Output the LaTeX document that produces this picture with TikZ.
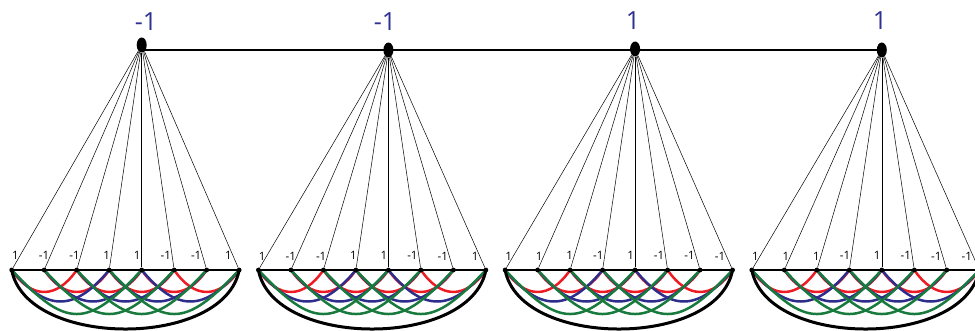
\documentclass[tikz,border=0pt]{standalone}
\usepackage{fontspec}
\setmainfont{Open Sans}
\usetikzlibrary{shapes.geometric}
\pgfdeclarelayer{bg}
\pgfsetlayers{bg,main}
\definecolor{lblblue}{RGB}{46,49,146}
\definecolor{arcred}{RGB}{237,28,36}
\definecolor{arcblue}{RGB}{45,45,140}
\definecolor{arcgreen}{RGB}{24,122,60}
\begin{document}
\begin{tikzpicture}[x=1pt,y=-1pt,
  topdot/.style={ellipse,fill=black,minimum width=10pt,minimum height=15pt,inner sep=0pt},
  botdot/.style={circle,fill=black,minimum size=4.8pt,inner sep=0pt},
  spoke/.style={line width=0.5pt},
  chain/.style={line width=2.4pt},
  topline/.style={line width=2pt},
  redarc/.style={arcred,line width=2.5pt},
  bluearc/.style={arcblue,line width=2.5pt},
  greenarc/.style={arcgreen,line width=2.5pt},
  blackarc/.style={black,line width=3pt},
  toplbl/.style={text=lblblue,font=\fontsize{25}{30}\selectfont,inner sep=0pt},
  botlbl/.style={font=\fontsize{11.5}{13}\selectfont,inner sep=1pt,anchor=east}]
\useasboundingbox (0,0) rectangle (975,331);
\clip (0,0) rectangle (975,331);
\foreach \g/\ty in {1/45,2/50,3/49,4/50}{
  \pgfmathsetmacro\xo{11.7+246.7*(\g-1)}
  \node[topdot] (t\g) at (\xo+130,\ty) {};
  \foreach \i in {1,...,8}{
    \node[botdot] (b\g-\i) at (\xo+32.5*\i-32.5,270) {};
  }
}
\draw[topline] (t1 |- t2) -- (t4.center);
\begin{pgfonlayer}{bg}
\foreach \g in {1,...,4}{
  \foreach \i in {1,...,6}{\pgfmathtruncatemacro\j{\i+2}
    \draw[redarc] (b\g-\i.center) .. controls +(20,29.3) and +(-20,29.3) .. (b\g-\j.center);}
  \foreach \i in {1,...,5}{\pgfmathtruncatemacro\j{\i+3}
    \draw[bluearc] (b\g-\i.center) .. controls +(35,42) and +(-35,42) .. (b\g-\j.center);}
  \foreach \i in {1,...,4}{\pgfmathtruncatemacro\j{\i+4}
    \draw[greenarc] (b\g-\i.center) .. controls +(55,58.7) and +(-55,58.7) .. (b\g-\j.center);}
  \draw[blackarc] (b\g-1.center) .. controls +(15,78.7) and +(-15,78.7) .. (b\g-8.center);
  \draw[chain] (b\g-1.center) -- (b\g-8.center);
}
\foreach \g in {1,2}{
  \foreach \i/\v in {1/1,2/-1,3/-1,4/1,5/1,6/-1,7/-1,8/1}{
    \draw[spoke] (t\g) -- (b\g-\i) node[botlbl,pos=0.945]{\v};}}
\foreach \g in {3,4}{
  \foreach \i/\v in {1/1,2/1,3/1,4/-1,5/1,6/-1,7/-1,8/-1}{
    \draw[spoke] (t\g) -- (b\g-\i) node[botlbl,pos=0.945]{\v};}}
\end{pgfonlayer}
\node[toplbl] (L1) at (146,22) {-1};
\node[toplbl] (L2) at (385,22) {-1};
\node[toplbl] (L3) at (633,21) {1};
\node[toplbl] (L4) at (880,21) {1};
\end{tikzpicture}
\end{document}
